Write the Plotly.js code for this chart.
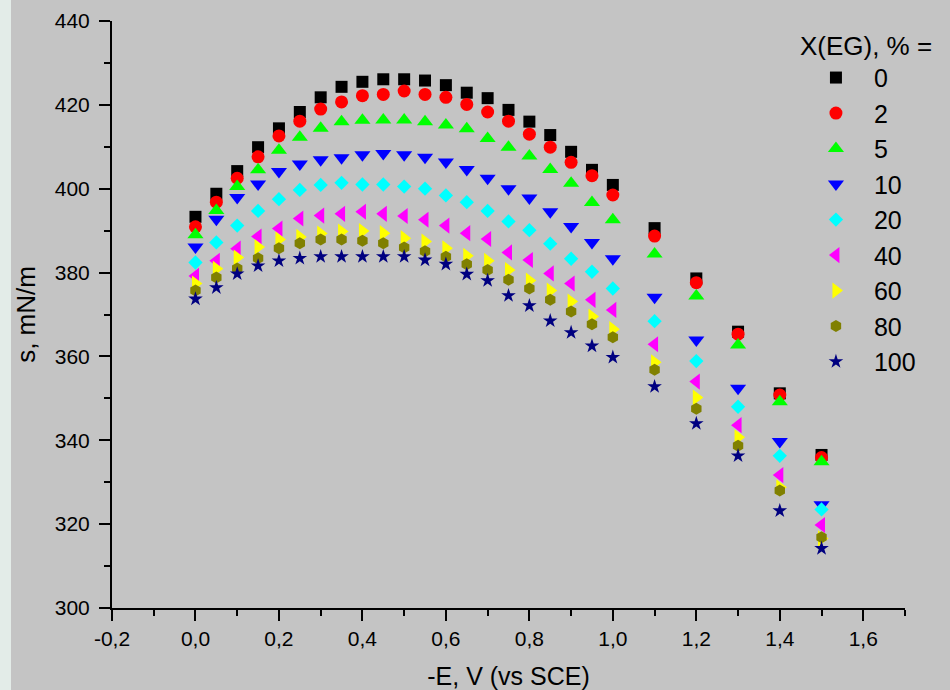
<!DOCTYPE html>
<html>
<head>
<meta charset="utf-8">
<script src="https://cdn.plot.ly/plotly-3.0.1.min.js"></script>
<style>
html,body{margin:0;padding:0;background:#e3ece8;width:950px;height:690px;overflow:hidden;}
#chart{position:absolute;left:11px;top:0;width:939px;height:690px;}
</style>
</head>
<body>
<div id="chart"></div>
<script>
// -E, V (vs SCE)
var potential = [0, 0.05, 0.1, 0.15, 0.2, 0.25, 0.3, 0.35, 0.4, 0.45, 0.5, 0.55, 0.6, 0.65, 0.7, 0.75, 0.8, 0.85, 0.9, 0.95, 1.0, 1.1, 1.2, 1.3, 1.4, 1.5];

var legendLabels = ["0", "2", "5", "10", "20", "40", "60", "80", "100"];

var xTickVals = [-0.2, 0, 0.2, 0.4, 0.6, 0.8, 1.0, 1.2, 1.4, 1.6];
var xTickText = ["-0,2", "0,0", "0,2", "0,4", "0,6", "0,8", "1,0", "1,2", "1,4", "1,6"];
var yTickVals = [300, 320, 340, 360, 380, 400, 420, 440];

var s_EG0   = [393.3, 398.8, 404.2, 409.9, 414.4, 418.3, 421.8, 424.3, 425.5, 426.1, 426.1, 425.8, 424.7, 422.9, 421.6, 418.8, 416.0, 412.8, 408.8, 404.5, 400.9, 390.6, 378.6, 365.9, 351.2, 336.5];
var s_EG2   = [390.9, 396.8, 402.5, 407.6, 412.6, 416.1, 419.0, 420.7, 422.2, 422.5, 423.3, 422.5, 421.8, 420.1, 418.3, 416.1, 413.0, 409.9, 406.3, 403.1, 398.5, 388.7, 377.6, 365.3, 350.8, 335.9];
var s_EG5   = [389.0, 394.8, 400.5, 404.5, 409.2, 412.3, 414.4, 416.0, 416.3, 416.4, 416.4, 416.0, 415.2, 414.3, 412.0, 409.9, 407.8, 404.6, 401.3, 396.7, 392.6, 384.4, 374.4, 362.7, 349.2, 334.9];
var s_EG10  = [386.1, 392.7, 397.9, 401.1, 404.1, 405.9, 406.9, 407.4, 408.1, 408.4, 408.1, 407.5, 406.4, 404.6, 402.5, 400.0, 397.8, 394.5, 391.0, 387.2, 383.3, 374.1, 363.9, 352.4, 339.7, 324.6];
var s_EG20  = [382.4, 387.2, 391.2, 394.7, 397.5, 399.7, 400.9, 401.4, 401.0, 401.0, 400.5, 400.0, 398.4, 396.8, 394.7, 392.2, 390.1, 386.9, 383.3, 380.2, 376.2, 368.4, 358.9, 348.0, 336.3, 323.5];
var s_EG40  = [379.2, 382.8, 385.7, 388.6, 390.5, 392.9, 393.6, 394.0, 394.5, 394.0, 393.5, 392.6, 391.2, 389.4, 388.0, 384.8, 383.0, 379.8, 377.4, 373.5, 371.1, 362.9, 354.0, 343.6, 331.7, 319.8];
var s_EG60  = [377.4, 380.9, 383.6, 386.1, 387.9, 388.5, 389.3, 389.8, 389.9, 389.4, 388.2, 387.4, 385.8, 384.0, 382.8, 380.6, 378.1, 375.7, 373.1, 369.5, 366.5, 358.6, 350.2, 340.7, 328.8, 316.6];
var s_EG80  = [375.7, 378.8, 381.0, 383.4, 385.8, 387.0, 387.9, 387.9, 387.6, 387.0, 386.0, 385.1, 383.8, 382.0, 380.6, 378.3, 376.2, 373.5, 370.7, 367.7, 364.6, 356.8, 347.5, 338.7, 328.0, 316.9];
var s_EG100 = [373.7, 376.4, 379.7, 381.6, 382.8, 383.4, 383.8, 383.8, 383.8, 383.8, 383.8, 383.0, 382.0, 379.6, 378.1, 374.5, 372.1, 368.5, 365.7, 362.5, 359.8, 352.8, 344.0, 336.3, 323.2, 314.2];

var seriesValues = [s_EG0, s_EG2, s_EG5, s_EG10, s_EG20, s_EG40, s_EG60, s_EG80, s_EG100];
var symbols = ["square", "circle", "triangle-up", "triangle-down", "diamond", "triangle-left", "triangle-right", "hexagon", "star"];
var colors = ["#000000", "#ff0000", "#00ff00", "#0000ff", "#00ffff", "#ff00ff", "#ffff00", "#808000", "#000080"];
var sizes = [12, 13, 14, 14, 11, 14, 14, 12, 11];

var traces = seriesValues.map(function (vals, i) {
  return {
    x: potential,
    y: vals,
    type: "scatter",
    mode: "markers",
    name: legendLabels[i],
    legendgroup: "g" + i,
    marker: {symbol: symbols[i], color: colors[i], size: sizes[i], line: {width: 0}}
  };
});

var FF = "Liberation Sans, Arial, sans-serif";

var layout = {
  width: 939,
  height: 690,
  margin: {l: 101, r: 45, t: 21, b: 82, pad: 0},
  paper_bgcolor: "#c4c4c4",
  plot_bgcolor: "#c4c4c4",
  font: {family: FF, size: 21, color: "#000"},
  showlegend: true,
  legend: {
    x: 0.865, xanchor: "left",
    y: 1.0, yanchor: "top",
    bgcolor: "rgba(0,0,0,0)",
    font: {family: FF, size: 25, color: "#000"},
    title: {text: "X(EG), % =", font: {family: FF, size: 26, color: "#000"}},
    traceorder: "grouped",
    tracegroupgap: 0,
    itemwidth: 66
  },
  xaxis: {
    range: [-0.2, 1.7],
    tickmode: "array",
    tickvals: xTickVals,
    ticktext: xTickText,
    ticks: "outside",
    ticklen: 11,
    tickwidth: 2,
    tickcolor: "#000",
    showline: true,
    linewidth: 2,
    linecolor: "#000",
    showgrid: false,
    zeroline: false,
    automargin: false,
    minor: {ticks: "outside", ticklen: 6, tickwidth: 2, tickcolor: "#000", tick0: -0.1, dtick: 0.1, showgrid: false},
    tickfont: {family: FF, size: 21, color: "#000"},
    title: {text: "-E, V (vs SCE)", font: {family: FF, size: 25, color: "#000"}, standoff: 21}
  },
  yaxis: {
    range: [300, 440],
    tickmode: "array",
    tickvals: yTickVals,
    ticks: "outside",
    ticklen: 11,
    tickwidth: 2,
    tickcolor: "#000",
    ticklabelstandoff: 5,
    showline: true,
    linewidth: 2,
    linecolor: "#000",
    showgrid: false,
    zeroline: false,
    automargin: false,
    minor: {ticks: "outside", ticklen: 6, tickwidth: 2, tickcolor: "#000", tick0: 300, dtick: 10, showgrid: false},
    tickfont: {family: FF, size: 21, color: "#000"},
    title: {text: "s, mN/m", font: {family: FF, size: 26, color: "#000"}, standoff: 32}
  }
};

Plotly.newPlot("chart", traces, layout, {displayModeBar: false, staticPlot: true});
</script>
</body>
</html>
